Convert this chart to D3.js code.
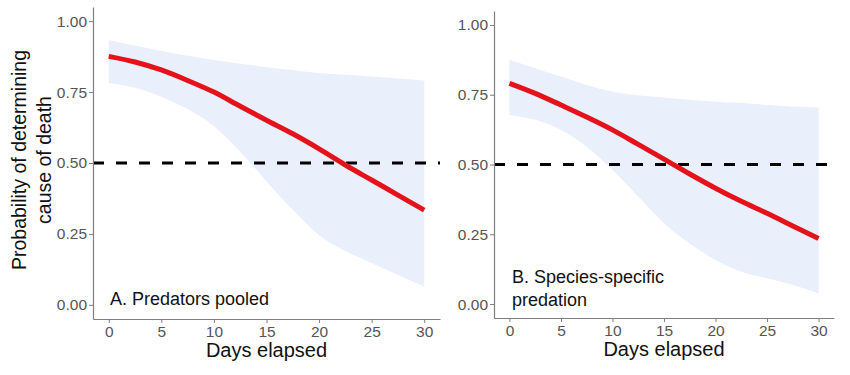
<!DOCTYPE html>
<html>
<head>
<meta charset="utf-8">
<script src="https://cdn.jsdelivr.net/npm/d3@7"></script>
<style>
  body { margin: 0; background: #fff; }
  svg { font-family: "Liberation Sans", Arial, sans-serif; }
</style>
</head>
<body>
<div id="graph"></div>
<script>
const days = [0, 2.5, 5, 7.5, 10, 12.5, 15, 17.5, 20, 22.5, 25, 27.5, 30];

// panel A - predators pooled
const fitA   = [0.876, 0.856, 0.828, 0.791, 0.75, 0.70, 0.651, 0.603, 0.55, 0.493, 0.44, 0.387, 0.334];
const upperA = [0.934, 0.913, 0.895, 0.878, 0.863, 0.85, 0.838, 0.827, 0.817, 0.811, 0.805, 0.798, 0.791];
const lowerA = [0.782, 0.765, 0.733, 0.69, 0.63, 0.54, 0.435, 0.335, 0.245, 0.19, 0.147, 0.105, 0.064];

// panel B - species-specific predation
const fitB   = [0.791, 0.755, 0.713, 0.67, 0.624, 0.572, 0.519, 0.466, 0.415, 0.368, 0.325, 0.28, 0.235];
const upperB = [0.875, 0.845, 0.815, 0.785, 0.761, 0.748, 0.74, 0.732, 0.725, 0.72, 0.713, 0.708, 0.704];
const lowerB = [0.677, 0.66, 0.624, 0.564, 0.48, 0.385, 0.289, 0.217, 0.158, 0.116, 0.092, 0.068, 0.038];

const xTicks = [0, 5, 10, 15, 20, 25, 30];
const yTicks = [0, 0.25, 0.5, 0.75, 1];
const threshold = 0.5;

const w = 850;
const h = 375;

var svg = d3.select("#graph").
append("svg").
attr("width", w).
attr("height", h);

function drawPanel(opt) {
  const xScale = d3.scaleLinear().
  domain([-1.5, 31.5]).
  range([opt.left, opt.right]);

  const yScale = d3.scaleLinear().
  domain([-0.05, 1.05]).
  range([opt.bottom, opt.top]);

  var g = svg.append("g");

  var pts = days.map((d, i) => ({ x: d, fit: opt.fit[i], lo: opt.lower[i], hi: opt.upper[i] }));

  var area = d3.area().
  curve(d3.curveMonotoneX).
  x(d => xScale(d.x)).
  y0(d => yScale(d.lo)).
  y1(d => yScale(d.hi));

  g.append("path").
  datum(pts).
  attr("d", area).
  attr("fill", "#eaeffc");

  // dashed 0.5 line
  g.append("line").
  attr("x1", opt.left).
  attr("x2", opt.right).
  attr("y1", yScale(threshold)).
  attr("y2", yScale(threshold)).
  attr("stroke", "#000").
  attr("stroke-width", 3).
  attr("stroke-dasharray", "11,12");

  var line = d3.line().
  curve(d3.curveMonotoneX).
  x(d => xScale(d.x)).
  y(d => yScale(d.fit));

  g.append("path").
  datum(pts).
  attr("d", line).
  attr("fill", "none").
  attr("stroke", "#e3121b").
  attr("stroke-width", 5);

  const xAxis = d3.axisBottom(xScale).tickValues(xTicks).tickSize(4).tickSizeOuter(0).tickPadding(3);
  const yAxis = d3.axisLeft(yScale).tickValues(yTicks).tickSize(4).tickSizeOuter(0).tickPadding(2).tickFormat(d3.format(".2f"));

  var gx = g.append("g").
  attr("transform", "translate(0," + opt.bottom + ")").
  call(xAxis);

  var gy = g.append("g").
  attr("transform", "translate(" + opt.left + ",0)").
  call(yAxis);

  [gx, gy].forEach(a => {
    a.select(".domain").attr("stroke", "#7f7f7f").attr("stroke-width", 1.2);
    a.selectAll(".tick line").attr("stroke", "#7f7f7f");
    a.selectAll(".tick text").
    attr("fill", "#555").
    style("font-size", "15.5px").
    style("font-family", "'Liberation Sans', Arial, sans-serif");
  });

  g.append("text").
  attr("x", (opt.left + opt.right) / 2).
  attr("y", opt.bottom + 38).
  attr("text-anchor", "middle").
  attr("fill", "#111").
  style("font-size", "20px").
  text("Days elapsed");

  var lab = g.append("text").
  attr("x", opt.labelX).
  attr("y", opt.labelY).
  attr("fill", "#111").
  style("font-size", "18px");
  opt.label.forEach((s, i) => {
    lab.append("tspan").
    attr("x", opt.labelX).
    attr("dy", i == 0 ? 0 : 23).
    text(s);
  });
}

drawPanel({
  left: 93, right: 440, top: 7, bottom: 319,
  fit: fitA, upper: upperA, lower: lowerA,
  label: ["A. Predators pooled"], labelX: 110, labelY: 305
});

drawPanel({
  left: 494, right: 834, top: 11, bottom: 318,
  fit: fitB, upper: upperB, lower: lowerB,
  label: ["B. Species-specific", "predation"], labelX: 512, labelY: 283
});

// y axis title (shared, left of panel A)
var yt = svg.append("text").
attr("transform", "translate(0,160) rotate(-90)").
attr("text-anchor", "middle").
attr("fill", "#111").
style("font-size", "19.5px");

yt.append("tspan").attr("x", 0).attr("y", 26).text("Probability of determining");
yt.append("tspan").attr("x", 0).attr("y", 51).text("cause of death");
</script>
</body>
</html>
